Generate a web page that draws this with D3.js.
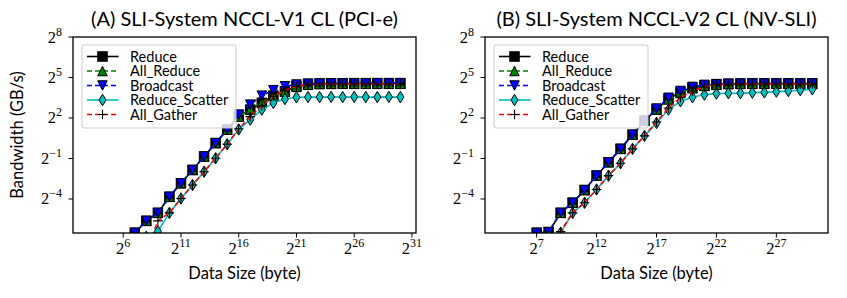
<!DOCTYPE html>
<html>
<head>
<meta charset="utf-8">
<script src="https://cdn.jsdelivr.net/npm/d3@7"></script>
<style>
  body { margin: 0; background: #fff; }
  svg text { fill: #000; }
</style>
</head>
<body>
<div id="chart"></div>
<script>
// Series names in plotting order
const seriesNames = ["Reduce", "All_Reduce", "Broadcast", "Reduce_Scatter", "All_Gather"];

// Message sizes as powers of two (bytes = 2^k)
const sizeExpTop = [7, 8, 9, 10, 11, 12, 13, 14, 15, 16, 17, 18, 19, 20, 21, 22, 23, 24, 25, 26, 27, 28, 29, 30];
const sizeExpLow = [8, 9, 10, 11, 12, 13, 14, 15, 16, 17, 18, 19, 20, 21, 22, 23, 24, 25, 26, 27, 28, 29, 30];

// (A) PCI-e, bandwidth in GB/s
const reduceA = [0.0110, 0.0203, 0.0306, 0.0698, 0.140, 0.277, 0.551, 1.10, 2.19, 4.29, 6.15, 8.69, 12.6, 15.8, 20.4, 22.3, 23.2, 23.4, 23.4, 23.5, 23.4, 23.5, 23.5, 23.5];
const allReduceA = [0.0112, 0.0205, 0.0308, 0.0702, 0.141, 0.279, 0.556, 1.11, 2.20, 4.30, 6.30, 9.00, 12.4, 15.5, 19.8, 22.0, 22.8, 23.0, 23.1, 23.1, 23.1, 23.1, 23.1, 23.1];
const broadcastA = [0.0110, 0.0203, 0.0306, 0.0698, 0.140, 0.277, 0.551, 1.10, 2.19, 4.76, 7.94, 12.6, 16.7, 20.4, 22.3, 23.4, 23.6, 23.8, 23.8, 23.9, 23.9, 24.0, 24.0, 24.0];
const reduceScatterA = [0.0090, 0.0118, 0.0306, 0.0643, 0.128, 0.254, 0.507, 1.04, 2.22, 3.68, 6.15, 8.69, 10.6, 11.6, 11.7, 11.7, 11.8, 11.7, 11.8, 11.7, 11.7, 11.8, 11.7];
const allGatherA = [0.0042, 0.0203, 0.0306, 0.0643, 0.128, 0.254, 0.507, 1.04, 2.30, 4.29, 7.46, 12.1, 16.6, 20.4, 22.6, 23.2, 23.2, 23.2, 23.2, 23.2, 23.2, 23.2, 23.2];

// (B) NV-SLI, bandwidth in GB/s
const reduceB = [0.0110, 0.0114, 0.0306, 0.0514, 0.0987, 0.207, 0.412, 0.818, 1.69, 3.48, 6.15, 10.6, 15.2, 18.8, 21.1, 22.3, 23.0, 23.2, 23.4, 23.4, 23.4, 23.4, 23.4, 23.4];
const allReduceB = [0.0111, 0.0115, 0.0308, 0.0518, 0.0990, 0.208, 0.414, 0.822, 1.70, 3.50, 6.20, 10.4, 14.8, 18.4, 20.8, 22.0, 22.8, 23.0, 23.2, 23.2, 23.2, 23.2, 23.2, 23.2];
const broadcastB = [0.0110, 0.0114, 0.0306, 0.0514, 0.0987, 0.207, 0.412, 0.818, 1.69, 3.48, 6.50, 11.3, 16.0, 19.7, 21.9, 22.8, 23.3, 23.5, 23.6, 23.6, 23.6, 23.6, 23.6, 23.6];
const reduceScatterB = [0.0092, 0.0110, 0.0306, 0.0514, 0.102, 0.207, 0.392, 0.818, 1.60, 3.10, 6.15, 9.45, 11.6, 13.3, 14.0, 14.3, 14.3, 14.7, 14.9, 15.5, 16.0, 16.7, 17.4];
const allGatherB = [0.0060, 0.0118, 0.0306, 0.0514, 0.102, 0.207, 0.392, 0.818, 1.60, 3.25, 6.70, 11.3, 16.0, 19.7, 21.9, 22.6, 22.8, 23.0, 23.0, 23.0, 23.0, 23.0, 23.0];

// Tick exponents
const yTickExp = [8, 5, 2, -1, -4];
const xTickExpA = [6, 11, 16, 21, 26, 31];
const xTickExpB = [7, 12, 17, 22, 27];

const titleA = "(A) SLI-System NCCL-V1 CL (PCI-e)";
const titleB = "(B) SLI-System NCCL-V2 CL (NV-SLI)";

// ---- layout ----
const W = 847, H = 298;
const plotTop = 37, plotBottom = 233;
const sansFont = "Lato, 'DejaVu Sans', sans-serif";
const serifFont = "'Liberation Serif', 'DejaVu Serif', serif";

const styles = {
  Reduce:         { color: "#000000", dash: null,  marker: "square" },
  All_Reduce:     { color: "#008000", dash: "5,3", marker: "triUp" },
  Broadcast:      { color: "#0000ff", dash: "5,3", marker: "triDown" },
  Reduce_Scatter: { color: "#00bfbf", dash: null,  marker: "diamond" },
  All_Gather:     { color: "#ff0000", dash: "5,3", marker: "plus" }
};

const panels = [
  { key: "A", left: 73, right: 416, xDom: [Math.pow(2, 1.65), Math.pow(2, 31.35)], xTicks: xTickExpA, title: titleA,
    series: [[sizeExpTop, reduceA], [sizeExpTop, allReduceA], [sizeExpTop, broadcastA], [sizeExpLow, reduceScatterA], [sizeExpLow, allGatherA]],
    ylabel: true },
  { key: "B", left: 485, right: 828, xDom: [Math.pow(2, 2.69), Math.pow(2, 31.31)], xTicks: xTickExpB, title: titleB,
    series: [[sizeExpTop, reduceB], [sizeExpTop, allReduceB], [sizeExpTop, broadcastB], [sizeExpLow, reduceScatterB], [sizeExpLow, allGatherB]],
    ylabel: false }
];

const svg = d3.select("#chart").append("svg")
  .attr("width", W).attr("height", H);

// Draw a marker shape centred on 0,0
function drawMarker(g, type, color) {
  const s = 9.5;
  if (type === "square") {
    g.append("rect").attr("x", -s / 2).attr("y", -s / 2).attr("width", s).attr("height", s)
      .attr("fill", color).attr("stroke", "#000").attr("stroke-width", 1);
  } else if (type === "triUp") {
    g.append("path").attr("d", `M0,${-s / 2}L${s / 2},${s / 2}L${-s / 2},${s / 2}Z`)
      .attr("fill", color).attr("stroke", "#000").attr("stroke-width", 1);
  } else if (type === "triDown") {
    g.append("path").attr("d", `M0,${s / 2}L${s / 2},${-s / 2}L${-s / 2},${-s / 2}Z`)
      .attr("fill", color).attr("stroke", "#000").attr("stroke-width", 1);
  } else if (type === "diamond") {
    g.append("path").attr("d", `M0,${-s * 0.6}L${s * 0.37},0L0,${s * 0.6}L${-s * 0.37},0Z`)
      .attr("fill", color).attr("stroke", "#000").attr("stroke-width", 1);
  } else if (type === "plus") {
    g.append("path").attr("d", `M${-s / 2},0H${s / 2}M0,${-s / 2}V${s / 2}`)
      .attr("fill", "none").attr("stroke", "#000").attr("stroke-width", 1.1);
  }
}

// Math-style tick label 2^k
function powLabel(sel, k) {
  sel.append("tspan").text("2");
  sel.append("tspan").attr("dy", -7).attr("font-size", "12px")
    .text(k < 0 ? "\u2212" + Math.abs(k) : String(k));
}

panels.forEach(function(p) {
  const x = d3.scaleLog().base(2).domain(p.xDom).range([p.left, p.right]);
  const y = d3.scaleLog().base(2).domain([Math.pow(2, -6.52), Math.pow(2, 8)]).range([plotBottom, plotTop]);

  const clipId = "clip" + p.key;
  svg.append("clipPath").attr("id", clipId)
    .append("rect").attr("x", p.left).attr("y", plotTop)
    .attr("width", p.right - p.left).attr("height", plotBottom - plotTop);

  const plot = svg.append("g").attr("clip-path", `url(#${clipId})`);

  const line = d3.line()
    .x(d => x(d.size))
    .y(d => y(d.bw));

  p.series.forEach(function(s, i) {
    const name = seriesNames[i];
    const st = styles[name];
    const pts = s[0].map((k, j) => ({ size: Math.pow(2, k), bw: s[1][j] }));
    plot.append("path")
      .datum(pts)
      .attr("fill", "none")
      .attr("stroke", st.color)
      .attr("stroke-width", 1.6)
      .attr("stroke-dasharray", st.dash)
      .attr("d", line);
    pts.forEach(function(d) {
      const m = plot.append("g").attr("transform", `translate(${x(d.size)},${y(d.bw)})`);
      drawMarker(m, st.marker, st.color);
    });
  });

  // Frame
  svg.append("rect")
    .attr("x", p.left).attr("y", plotTop)
    .attr("width", p.right - p.left).attr("height", plotBottom - plotTop)
    .attr("fill", "none").attr("stroke", "#000").attr("stroke-width", 1.3);

  // Y ticks
  yTickExp.forEach(function(k) {
    const yy = y(Math.pow(2, k));
    svg.append("line").attr("x1", p.left - 4.5).attr("x2", p.left)
      .attr("y1", yy).attr("y2", yy).attr("stroke", "#000").attr("stroke-width", 1);
    const t = svg.append("text")
      .attr("x", p.left - 11).attr("y", yy + 5.5)
      .attr("text-anchor", "end")
      .attr("font-family", serifFont).attr("font-size", "16.5px");
    powLabel(t, k);
  });

  // X ticks
  p.xTicks.forEach(function(k) {
    const xx = x(Math.pow(2, k));
    svg.append("line").attr("x1", xx).attr("x2", xx)
      .attr("y1", plotBottom).attr("y2", plotBottom + 4.5).attr("stroke", "#000").attr("stroke-width", 1);
    const t = svg.append("text")
      .attr("x", xx).attr("y", plotBottom + 21)
      .attr("text-anchor", "middle")
      .attr("font-family", serifFont).attr("font-size", "16.5px");
    powLabel(t, k);
  });

  const cx = (p.left + p.right) / 2;

  // Title
  svg.append("text")
    .attr("x", cx).attr("y", 26)
    .attr("text-anchor", "middle")
    .attr("font-family", sansFont).attr("font-size", "20px")
    .text(p.title);

  // X label
  svg.append("text")
    .attr("x", cx).attr("y", 279)
    .attr("text-anchor", "middle")
    .attr("font-family", sansFont).attr("font-size", "16.5px")
    .text("Data Size (byte)");

  if (p.ylabel) {
    svg.append("text")
      .attr("transform", `translate(23,${(plotTop + plotBottom) / 2}) rotate(-90)`)
      .attr("text-anchor", "middle")
      .attr("font-family", sansFont).attr("font-size", "16.5px")
      .text("Bandwidth (GB/s)");
  }

  // Legend
  const lx = p.left + 9, ly = 45, lw = 154, lh = 83;
  const legend = svg.append("g");
  legend.append("rect")
    .attr("x", lx).attr("y", ly).attr("width", lw).attr("height", lh)
    .attr("rx", 2).attr("fill", "#fff").attr("fill-opacity", 0.8)
    .attr("stroke", "#cccccc").attr("stroke-width", 1);
  seriesNames.forEach(function(name, i) {
    const st = styles[name];
    const ry = ly + 11.5 + i * 14.5;
    legend.append("line")
      .attr("x1", lx + 5).attr("x2", lx + 36.5)
      .attr("y1", ry).attr("y2", ry)
      .attr("stroke", st.color).attr("stroke-width", 1.6)
      .attr("stroke-dasharray", st.dash);
    const m = legend.append("g").attr("transform", `translate(${lx + 20.5},${ry})`);
    drawMarker(m, st.marker, st.color);
    legend.append("text")
      .attr("x", lx + 48).attr("y", ry + 5)
      .attr("font-family", sansFont).attr("font-size", "14.5px")
      .text(name);
  });
});
</script>
</body>
</html>
